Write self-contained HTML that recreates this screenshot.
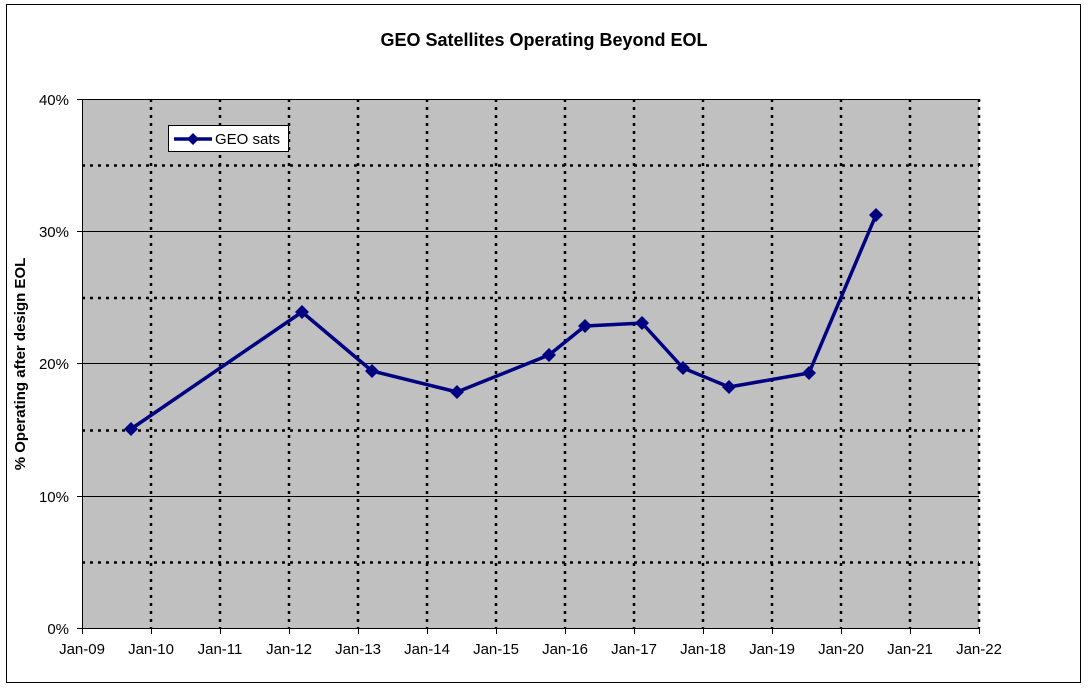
<!DOCTYPE html>
<html><head><style>body{margin:0;background:#fff}svg{display:block;font-family:"Liberation Sans",Arial,sans-serif}</style></head><body>
<svg width="1088" height="689" viewBox="0 0 1088 689" xmlns="http://www.w3.org/2000/svg">
<rect x="6.5" y="4.5" width="1074" height="678" fill="#fff" stroke="#000"/>
<text x="544" y="46" text-anchor="middle" font-size="18" font-weight="bold">GEO Satellites Operating Beyond EOL</text>
<rect x="82" y="99" width="897" height="529" fill="#c0c0c0"/>
<g stroke="#000" stroke-width="1">
<line x1="82" y1="496.5" x2="979" y2="496.5"/><line x1="82" y1="363.5" x2="979" y2="363.5"/><line x1="82" y1="231.5" x2="979" y2="231.5"/><line x1="82" y1="99.5" x2="979" y2="99.5"/>
</g>
<g stroke="#000" stroke-width="2.5" stroke-dasharray="3,5">
<line x1="82" y1="562.5" x2="979" y2="562.5"/><line x1="82" y1="430.5" x2="979" y2="430.5"/><line x1="82" y1="298" x2="979" y2="298"/><line x1="82" y1="165.5" x2="979" y2="165.5"/>
<line x1="151" y1="99" x2="151" y2="628"/><line x1="220" y1="99" x2="220" y2="628"/><line x1="289" y1="99" x2="289" y2="628"/><line x1="358" y1="99" x2="358" y2="628"/><line x1="427" y1="99" x2="427" y2="628"/><line x1="496" y1="99" x2="496" y2="628"/><line x1="565" y1="99" x2="565" y2="628"/><line x1="634" y1="99" x2="634" y2="628"/><line x1="703" y1="99" x2="703" y2="628"/><line x1="772" y1="99" x2="772" y2="628"/><line x1="841" y1="99" x2="841" y2="628"/><line x1="910" y1="99" x2="910" y2="628"/><line x1="979" y1="99" x2="979" y2="628"/>
</g>
<g stroke="#000" stroke-width="1">
<line x1="82.5" y1="99" x2="82.5" y2="628"/><line x1="82" y1="628.5" x2="979" y2="628.5"/>
<line x1="77" y1="99.5" x2="82" y2="99.5"/><line x1="77" y1="231.5" x2="82" y2="231.5"/><line x1="77" y1="363.5" x2="82" y2="363.5"/><line x1="77" y1="496.5" x2="82" y2="496.5"/><line x1="77" y1="628.5" x2="82" y2="628.5"/>
<path d="M82.5 628v6M151.5 628v6M220.5 628v6M289.5 628v6M358.5 628v6M427.5 628v6M496.5 628v6M565.5 628v6M634.5 628v6M703.5 628v6M772.5 628v6M841.5 628v6M910.5 628v6M979.5 628v6"/>
</g>
<g font-size="15" text-anchor="end"><text x="69" y="105">40%</text><text x="69" y="237">30%</text><text x="69" y="369">20%</text><text x="69" y="502">10%</text><text x="69" y="634">0%</text></g>
<g font-size="15" text-anchor="middle"><text x="82" y="654">Jan-09</text><text x="151" y="654">Jan-10</text><text x="220" y="654">Jan-11</text><text x="289" y="654">Jan-12</text><text x="358" y="654">Jan-13</text><text x="427" y="654">Jan-14</text><text x="496" y="654">Jan-15</text><text x="565" y="654">Jan-16</text><text x="634" y="654">Jan-17</text><text x="703" y="654">Jan-18</text><text x="772" y="654">Jan-19</text><text x="841" y="654">Jan-20</text><text x="910" y="654">Jan-21</text><text x="979" y="654">Jan-22</text></g>
<text transform="translate(25,364) rotate(-90)" text-anchor="middle" font-size="15" font-weight="bold">% Operating after design EOL</text>
<polyline fill="none" stroke="#000080" stroke-width="3.5" stroke-linejoin="round" points="131,429 302,312 372,371 457,392 549,355 585,326 642,323 683,368 729,387 809,373 876,215"/>
<g fill="#000080">
<path d="M131 422l7 7-7 7-7-7z"/><path d="M302 305l7 7-7 7-7-7z"/><path d="M372 364l7 7-7 7-7-7z"/><path d="M457 385l7 7-7 7-7-7z"/><path d="M549 348l7 7-7 7-7-7z"/><path d="M585 319l7 7-7 7-7-7z"/><path d="M642 316l7 7-7 7-7-7z"/><path d="M683 361l7 7-7 7-7-7z"/><path d="M729 380l7 7-7 7-7-7z"/><path d="M809 366l7 7-7 7-7-7z"/><path d="M876 208l7 7-7 7-7-7z"/>
</g>
<rect x="168.5" y="125.5" width="120" height="26" fill="#fff" stroke="#000"/>
<line x1="174" y1="139" x2="212" y2="139" stroke="#000080" stroke-width="3.5"/>
<path d="M193 133l6 6-6 6-6-6z" fill="#000080"/>
<text x="215" y="144" font-size="15">GEO sats</text>
</svg>
</body></html>
